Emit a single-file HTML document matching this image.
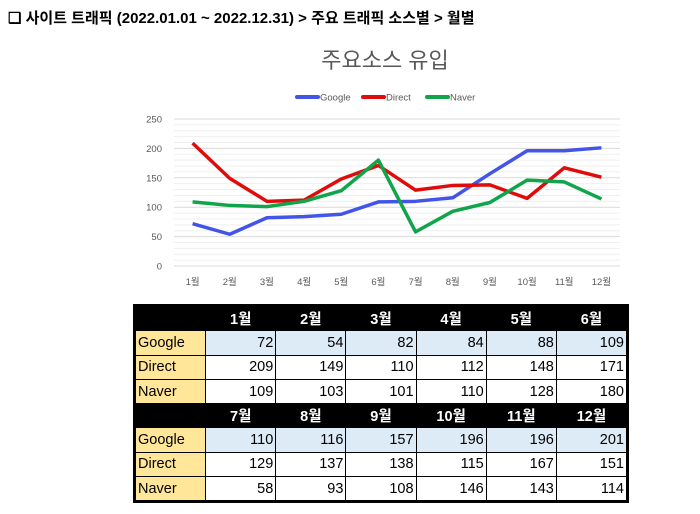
<!DOCTYPE html>
<html><head><meta charset="utf-8"><style>
body{margin:0;width:700px;height:514px;background:#fff;font-family:"Liberation Sans","Noto Sans CJK KR",sans-serif;position:relative;overflow:hidden}
#hdr{position:absolute;left:8px;top:7px;font-size:15px;font-weight:bold;color:#000;white-space:nowrap}
#chart{position:absolute;left:0;top:0}
table{position:absolute;left:135px;top:306px;width:492px;height:195px;table-layout:fixed;border-collapse:collapse;font-size:14.5px;font-family:"Liberation Sans","Noto Sans CJK KR",sans-serif;outline:2px solid #000}
td{height:24.3px;padding:0 2px;border:1px solid #000;text-align:right;box-sizing:border-box}
tr.h td{background:#000;color:#fff;font-weight:bold;text-align:center;border-color:#000}
td.l{background:#ffe699;text-align:left}
tr.g td:not(.l){background:#ddebf7}
</style></head><body>
<div id="hdr">❑ 사이트 트래픽 (2022.01.01 ~ 2022.12.31) &gt; 주요 트래픽 소스별 &gt; 월별</div>
<svg id="chart" width="700" height="300"></svg>
<table id="tbl"></table>
<script>
const categories=["1월","2월","3월","4월","5월","6월","7월","8월","9월","10월","11월","12월"];
const google=[72,54,82,84,88,109,110,116,157,196,196,201];
const direct=[209,149,110,112,148,171,129,137,138,115,167,151];
const naver=[109,103,101,110,128,180,58,93,108,146,143,114];
const yTicks=[0,50,100,150,200,250];
const NS="http://www.w3.org/2000/svg";
const svg=document.getElementById('chart');
function mk(t,a,p){const e=document.createElementNS(NS,t);for(const k in a)e.setAttribute(k,a[k]);(p||svg).appendChild(e);return e;}
const x0=174,x1=620,yb=266,yt=119,ymax=250;
const xs=i=>x0+(x1-x0)*(i+0.5)/categories.length;
const ys=v=>yb-(yb-yt)*v/ymax;
let t=mk('text',{x:385,y:68,'text-anchor':'middle','font-size':22,fill:'#595959'});t.textContent='주요소스 유입';

for(let v=0;v<=ymax;v+=10){const l=mk('line',{x1:x0,x2:x1,y1:ys(v),y2:ys(v),stroke:v%50==0?'#d9d9d9':'#efefef','stroke-width':1});
}
yTicks.forEach(v=>{const e=mk('text',{x:162,y:ys(v)+3.5,'text-anchor':'end','font-size':9.5,fill:'#595959'});e.textContent=v;
});
categories.forEach((c,i)=>{const e=mk('text',{x:xs(i),y:285,'text-anchor':'middle','font-size':9.5,fill:'#595959'});e.textContent=c;
});
const series=[["Google",google,"#4355e8",297],["Direct",direct,"#e00b0b",363],["Naver",naver,"#10a54a",427]];
series.forEach(([n,d,c,lx])=>{
const p=mk('polyline',{points:d.map((v,i)=>xs(i)+','+ys(v)).join(' '),fill:'none',stroke:c,'stroke-width':3.5,'stroke-linejoin':'round'});

const g=mk('g',{});
mk('line',{x1:lx,x2:lx+21,y1:97,y2:97,stroke:c,'stroke-width':4,'stroke-linecap':'round'},g);
const tx=mk('text',{x:lx+23,y:100.5,'font-size':9.5,fill:'#595959'},g);tx.textContent=n;});
const tb=document.getElementById('tbl');
for(let h=0;h<2;h++){
 let tr=document.createElement('tr');tr.className='h';
 
 let html='<td style="background:#000"></td>';
 for(let i=h*6;i<h*6+6;i++)html+='<td>'+categories[i]+'</td>';
 tr.innerHTML=html;tb.appendChild(tr);
 [["Google",google,"g"],["Direct",direct,""],["Naver",naver,""]].forEach(([n,d,cl])=>{
  const r=document.createElement('tr');r.className=cl;
  
  let s='<td class="l">'+n+'</td>';for(let i=h*6;i<h*6+6;i++)s+='<td>'+d[i]+'</td>';
  r.innerHTML=s;tb.appendChild(r);});
}
</script>
</body></html>
